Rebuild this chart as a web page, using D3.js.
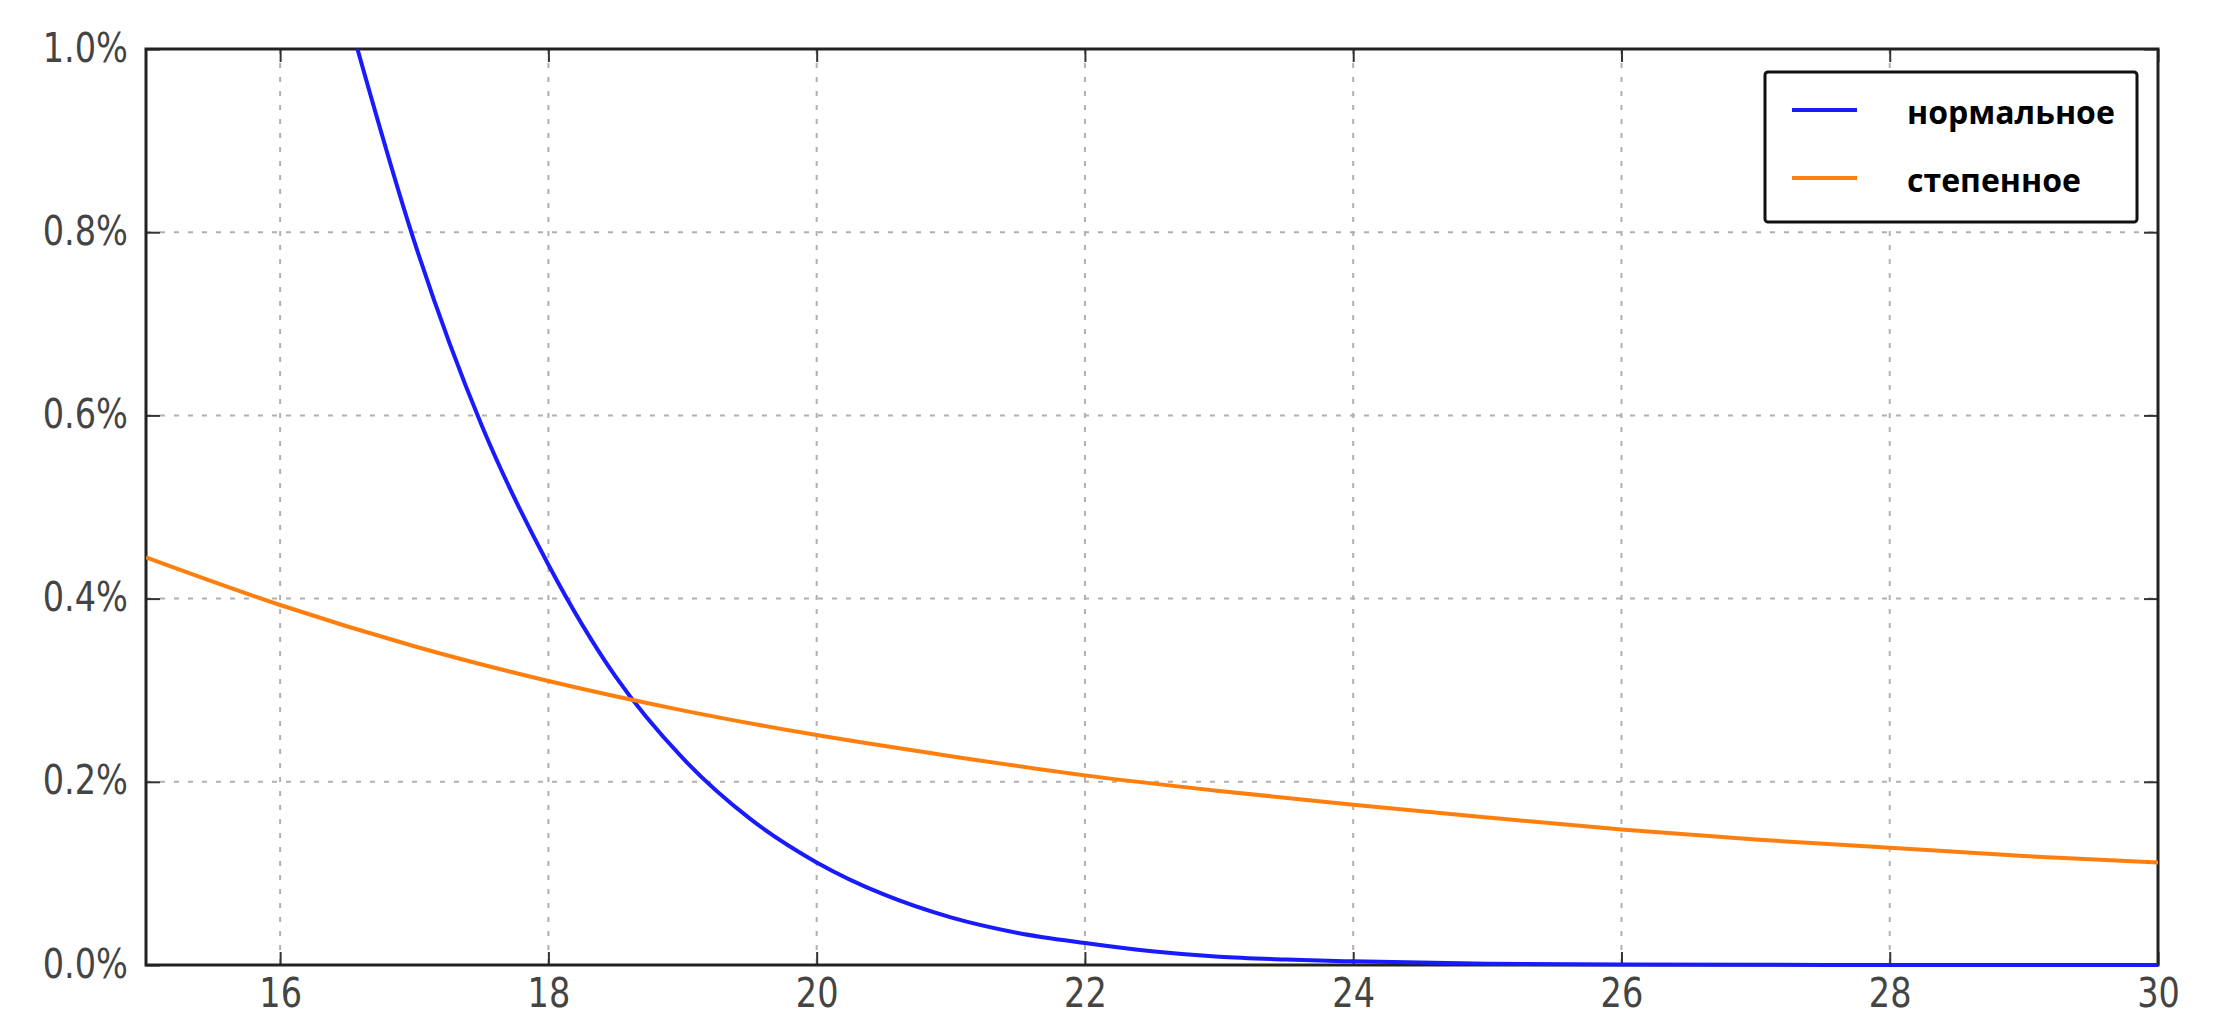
<!DOCTYPE html>
<html>
<head>
<meta charset="utf-8">
<script src="https://cdn.jsdelivr.net/npm/d3@7"></script>
<style>
  html, body { margin: 0; padding: 0; background: #fff; }
  svg { display: block; }
</style>
</head>
<body>
<svg id="chart" width="2220" height="1036"></svg>
<script>
// ---- data ----
const xTicks = [16, 18, 20, 22, 24, 26, 28, 30];
const yTicks = [0, 0.2, 0.4, 0.6, 0.8, 1.0];
const seriesNames = ["нормальное", "степенное"];

// "нормальное" (normal) — percent
const normalX = [16.5, 17, 17.5, 18, 18.5, 19, 19.5, 20, 20.5, 21, 21.5, 22, 22.5, 23, 23.5, 24, 25, 26, 27, 28, 29, 30];
const normalY = [1.04, 0.79, 0.59, 0.437, 0.315, 0.226, 0.16, 0.112, 0.077, 0.052, 0.035, 0.024, 0.015, 0.009, 0.006, 0.004, 0.0015, 0.0005, 0.0002, 0.0001, 0.00005, 0.00002];

// "степенное" (power law) — percent
const powerX = [15, 16, 17, 18, 19, 20, 21, 22, 23, 24, 25, 26, 27, 28, 29, 30];
const powerY = [0.445, 0.393, 0.348, 0.310, 0.278, 0.251, 0.228, 0.207, 0.190, 0.175, 0.161, 0.148, 0.137, 0.128, 0.119, 0.112];

const colors = ["#1a1aff", "#ff7f0e"];

// ---- layout ----
const L = 146, R = 2158, T = 49, B = 965;
const svg = d3.select("#chart");
const x = d3.scaleLinear().domain([15, 30]).range([L, R]);
const y = d3.scaleLinear().domain([0, 1.0]).range([B, T]);

const tickFont = "'DejaVu Sans', sans-serif";
const sx = 0.84;

// grid
const grid = svg.append("g").attr("stroke", "#b0b0b0").attr("stroke-width", 2).attr("stroke-dasharray", "5,9");
grid.selectAll("line.v").data(xTicks.filter(d => d > 15 && d < 30)).enter().append("line")
  .attr("x1", d => x(d)).attr("x2", d => x(d)).attr("y1", T).attr("y2", B);
grid.selectAll("line.h").data(yTicks.filter(d => d > 0 && d < 1)).enter().append("line")
  .attr("x1", L).attr("x2", R).attr("y1", d => y(d)).attr("y2", d => y(d));

// axes
const fmt = d => d3.format(".1f")(d) + "%";
const axB = svg.append("g").attr("transform", `translate(0,${B})`)
  .call(d3.axisBottom(x).tickValues(xTicks).tickSizeInner(-13).tickSizeOuter(0).tickPadding(0));
const axL = svg.append("g").attr("transform", `translate(${L},0)`)
  .call(d3.axisLeft(y).tickValues(yTicks).tickFormat(fmt).tickSizeInner(-14).tickSizeOuter(0));
const axT = svg.append("g").attr("transform", `translate(0,${T})`)
  .call(d3.axisTop(x).tickValues(xTicks).tickSizeInner(-13).tickSizeOuter(0).tickFormat(""));
const axR = svg.append("g").attr("transform", `translate(${R},0)`)
  .call(d3.axisRight(y).tickValues(yTicks).tickSizeInner(-14).tickSizeOuter(0).tickFormat(""));

[axB, axL, axT, axR].forEach(a => {
  a.select(".domain").remove();
  a.selectAll(".tick line").attr("stroke", "#333").attr("stroke-width", 2);
});

axB.selectAll(".tick text")
  .attr("y", 42).attr("dy", null)
  .attr("transform", `scale(${sx},1)`)
  .attr("font-family", tickFont).attr("font-size", 40).attr("fill", "#444");
axL.selectAll(".tick text")
  .attr("x", -18 / sx).attr("dy", "0.30em")
  .attr("transform", `scale(${sx},1)`)
  .attr("font-family", tickFont).attr("font-size", 40).attr("fill", "#444");

// clip
svg.append("clipPath").attr("id", "clip").append("rect")
  .attr("x", L).attr("y", T).attr("width", R - L).attr("height", B - T + 4);

// frame
svg.append("rect").attr("x", L).attr("y", T).attr("width", R - L).attr("height", B - T)
  .attr("fill", "none").attr("stroke", "#222").attr("stroke-width", 3);

// lines
const line = d3.line().x(d => x(d[0])).y(d => y(d[1])).curve(d3.curveMonotoneX);
const series = [normalX.map((v, i) => [v, normalY[i]]), powerX.map((v, i) => [v, powerY[i]])];
svg.append("g").attr("clip-path", "url(#clip)")
  .selectAll("path").data(series).enter().append("path")
  .attr("d", line).attr("fill", "none")
  .attr("stroke", (d, i) => colors[i]).attr("stroke-width", 4)
  .attr("stroke-linejoin", "round");

// legend
const lg = svg.append("g");
lg.append("rect").attr("x", 1765).attr("y", 72).attr("width", 372).attr("height", 150)
  .attr("rx", 3).attr("fill", "#fff").attr("stroke", "#111").attr("stroke-width", 3);
const legY = [110, 178];
seriesNames.forEach((name, i) => {
  lg.append("line").attr("x1", 1792).attr("x2", 1857).attr("y1", legY[i]).attr("y2", legY[i])
    .attr("stroke", colors[i]).attr("stroke-width", 4);
  lg.append("text").attr("x", 1907).attr("y", legY[i] + 14)
    .attr("font-family", "'Open Sans', sans-serif").attr("font-weight", 700)
    .attr("font-size", 32).attr("fill", "#000").text(name);
});
</script>
</body>
</html>
